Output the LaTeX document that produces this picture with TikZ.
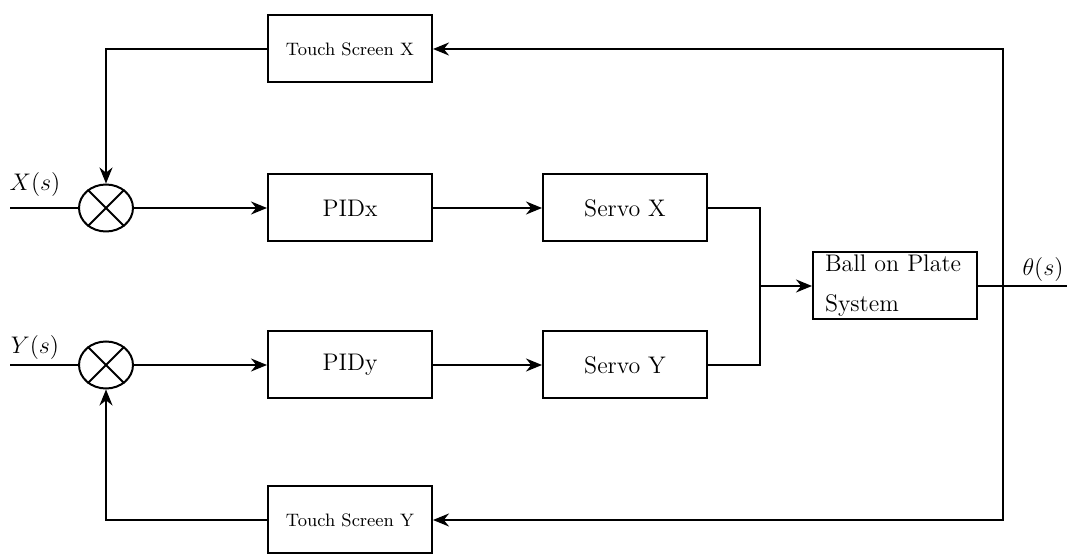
\documentclass[tikz,border=0pt]{standalone}
\usepackage{tikz}
\usepackage{amsmath}
\usetikzlibrary{positioning,shapes.geometric,arrows.meta}

\tikzset{
  blk/.style={draw, line width=1pt, minimum width=82pt, minimum height=33.5pt, font=\large},
  tsblk/.style={blk, font=\small},
  sumj/.style={draw, ellipse, line width=1pt, minimum width=27pt, minimum height=23.5pt, inner sep=0pt},
  sig/.style={line width=1pt, -{Stealth[length=8pt,width=6.5pt]}},
  wire/.style={line width=1pt},
  siglab/.style={font=\large}
}

\begin{document}
\begin{tikzpicture}[x=0.5pt, y=-0.5pt, node distance=54.5pt]
  \useasboundingbox (0,0) rectangle (1067,555);
  % forward path
  \node[sumj] (sumx) at (106,208) {};
  \node[blk] (pidx) at (350,208) {PIDx};
  \node[blk, right=of pidx] (servox) {Servo X};
  \node[sumj] (sumy) at (106,365) {};
  \node[blk] (pidy) at (350,365) {PIDy};
  \node[blk, right=of pidy] (servoy) {Servo Y};
  \node[blk, align=left, text width=70pt, inner xsep=6pt, inner ysep=0.5pt] (ball) at (895,286) {Ball on Plate\\[6pt]System};
  % feedback blocks
  \node[tsblk] (tsx) at (350,49) {Touch Screen X};
  \node[tsblk] (tsy) at (350,520) {Touch Screen Y};

  \node[siglab] (xlab) at (35,185) {$X(s)$};
  \node[siglab] (ylab) at (35,348) {$Y(s)$};
  \node[siglab] (thlab) at (1043,270) {$\theta(s)$};

  \coordinate (inx) at (10,208);
  \coordinate (iny) at (10,365);
  \coordinate (outp) at (1067,286);
  \coordinate (fb) at (1003,286);
  \coordinate (jn) at (760,286);

  \draw[wire] (sumx.45) -- (sumx.225) (sumx.135) -- (sumx.315);
  \draw[wire] (sumy.45) -- (sumy.225) (sumy.135) -- (sumy.315);

  \draw[wire] (inx) -- (sumx.west);
  \draw[wire] (iny) -- (sumy.west);
  \draw[sig] (sumx.east) -- (pidx.west);
  \draw[sig] (sumy.east) -- (pidy.west);
  \draw[sig] (pidx) -- (servox);
  \draw[sig] (pidy) -- (servoy);
  \draw[wire] (servox.east) -| (jn);
  \draw[wire] (servoy.east) -| (jn);
  \draw[sig] (jn) -- (ball.west);
  \draw[wire] (ball.east) -- (outp);

  \draw[sig] (fb) |- (tsx.east);
  \draw[sig] (fb) |- (tsy.east);
  \draw[sig] (tsx.west) -| (sumx.north);
  \draw[sig] (tsy.west) -| (sumy.south);
\end{tikzpicture}
\end{document}
